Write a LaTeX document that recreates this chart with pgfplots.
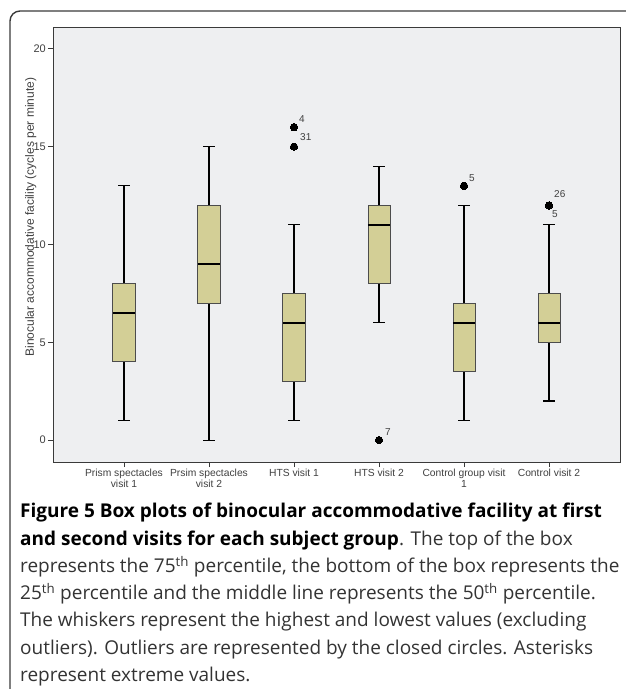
\documentclass[border=0pt]{standalone}
\usepackage{pgfplots}
\pgfplotsset{compat=1.18}
\usepgfplotslibrary{statistics}
\usepackage{fontspec}
\setmainfont{Liberation Sans}
\newfontfamily\capfont{Open Sans}
\definecolor{bgcol}{HTML}{EEEFF1}
\definecolor{boxfill}{HTML}{D3CF96}
\definecolor{framecol}{HTML}{3A3A3A}
\definecolor{lblcol}{HTML}{404040}
\definecolor{captxt}{HTML}{333333}
\pgfplotsset{
  mybox/.style={
    black, line width=1.1pt, mark=*, mark size=3.7pt, mark options={fill=black, draw=black, line width=0pt},
    boxplot/draw direction=y,
    boxplot/box extend=0.26,
    boxplot/whisker extend=0.13,
    boxplot/every box/.style={draw=black!70, fill=boxfill, line width=0.9pt},
    boxplot/every whisker/.style={black, line width=1.1pt},
    boxplot/every median/.style={black, line width=1.8pt},
  }
}
\begin{document}
\begin{tikzpicture}
\begin{axis}[
  at={(53pt,-462pt)}, anchor=south west,
  scale only axis, width=567pt, height=435pt,
  xmin=-0.835, xmax=5.835, ymin=-1.12, ymax=21.12,
  axis background/.style={fill=bgcol},
  axis line style={framecol, line width=0.9pt},
  xtick={0,1,2,3,4,5},
  xticklabels={{Prism spectacles\\visit 1},{Prsim spectacles\\visit 2},{HTS visit 1},{HTS visit 2},{Control group visit\\1},{Control visit 2}},
  xticklabel style={align=center, font=\fontsize{10.3}{10.5}\selectfont, text=lblcol, inner sep=2pt},
  ytick={0,5,10,15,20},
  yticklabel style={font=\fontsize{11}{12}\selectfont, text=lblcol, inner sep=2pt},
  /pgf/number format/assume math mode=true,
  tick align=outside, major tick length=5pt,
  xtick pos=left, ytick pos=left,
  tick style={framecol, line width=0.9pt},
  ylabel={Binocular accommodative facility (cycles per minute)},
  every axis y label/.style={at={(axis description cs:-0.039,0.563)}, rotate=90, anchor=center, font=\fontsize{12}{13}\selectfont, text=lblcol},
  clip=false,
]
\addplot[mybox, boxplot prepared={lower whisker=1, lower quartile=4, median=6.5, upper quartile=8, upper whisker=13, draw position=0}] coordinates {};
\addplot[mybox, boxplot prepared={lower whisker=0, lower quartile=7, median=9, upper quartile=12, upper whisker=15, draw position=1}] coordinates {};
\addplot[mybox, boxplot prepared={lower whisker=1, lower quartile=3, median=6, upper quartile=7.5, upper whisker=11, draw position=2}] table[row sep=\\, y index=0] {v\\16\\15\\};
\addplot[mybox, boxplot prepared={lower whisker=6, lower quartile=8, median=11, upper quartile=12, upper whisker=14, draw position=3}] table[row sep=\\, y index=0] {v\\0\\};
\addplot[mybox, boxplot prepared={lower whisker=1, lower quartile=3.5, median=6, upper quartile=7, upper whisker=12, draw position=4}] table[row sep=\\, y index=0] {v\\13\\};
\addplot[mybox, boxplot prepared={lower whisker=2, lower quartile=5, median=6, upper quartile=7.5, upper whisker=11, draw position=5}] table[row sep=\\, y index=0] {v\\12\\};
\begin{scope}[every node/.style={font=\fontsize{10}{11}\selectfont, text=lblcol, inner sep=0pt, anchor=west}]
\node[xshift=5pt, yshift=8pt] at (axis cs:2,16) {4};
\node[xshift=6pt, yshift=10pt] at (axis cs:2,15) {31};
\node[xshift=6pt, yshift=8pt] at (axis cs:3,0) {7};
\node[xshift=5pt, yshift=8pt] at (axis cs:4,13) {5};
\node[xshift=5pt, yshift=11pt] at (axis cs:5,12) {26};
\node[xshift=3pt, yshift=-9pt] at (axis cs:5,12) {5};
\end{scope}
\end{axis}
\draw[line width=1.4pt, framecol, rounded corners=10pt] (10pt,-720pt) -- (10pt,-11pt) -- (660pt,-11pt);
\node[anchor=north west, align=left, inner sep=0pt, font=\capfont\fontsize{19}{27.3}\selectfont, text=captxt] at (20pt,-503pt)
{\textbf{\color{black}Figure 5 Box plots of binocular accommodative facility at first}\\
\textbf{\color{black}and second visits for each subject group}. The top of the box\\
represents the 75\textsuperscript{th} percentile, the bottom of the box represents the\\
25\textsuperscript{th} percentile and the middle line represents the 50\textsuperscript{th} percentile.\\
The whiskers represent the highest and lowest values (excluding\\
outliers). Outliers are represented by the closed circles. Asterisks\\
represent extreme values.};
\pgfresetboundingbox
\path[use as bounding box] (0pt,0pt) rectangle (625pt,-689pt);
\end{tikzpicture}
\end{document}
